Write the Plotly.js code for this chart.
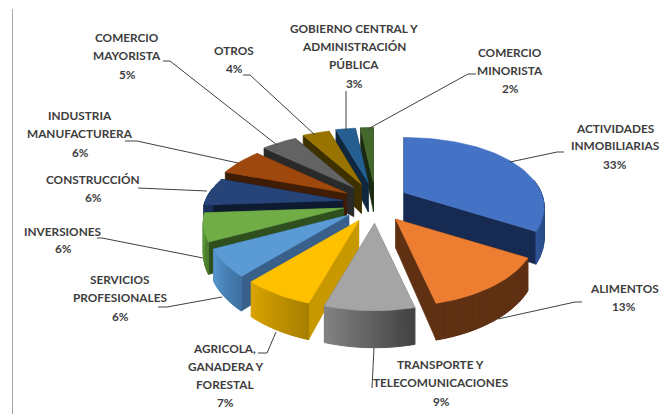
<!DOCTYPE html>
<html><head><meta charset="utf-8">
<script src="https://cdn.plot.ly/plotly-3.0.1.min.js"></script>
<style>html,body{margin:0;padding:0;background:#fff}#c{width:665px;height:414px}</style>
</head><body><div id="c"></div>
<script>
// ---- data ----
const categories = ["ACTIVIDADES INMOBILIARIAS","ALIMENTOS","TRANSPORTE Y TELECOMUNICACIONES","AGRICOLA, GANADERA Y FORESTAL","SERVICIOS PROFESIONALES","INVERSIONES","CONSTRUCCIÓN","INDUSTRIA MANUFACTURERA","COMERCIO MAYORISTA","OTROS","GOBIERNO CENTRAL Y ADMINISTRACIÓN PÚBLICA","COMERCIO MINORISTA"];
const values = [33,13,9,7,6,6,6,6,5,4,3,2];
// ---- styles ----
const topColors   = ["#4472C4","#ED7D31","#A5A5A5","#FFC000","#5B9BD5","#70AD47","#264478","#9E480E","#636363","#997300","#255E91","#43682B"];
const faceColors  = ["#172B52","#5F3012","#6E6E6E","#C89800","#38608A","#2F4F1E","#0E1A30","#3E1C05","#2A2A2A","#3F3000","#0F2840","#1A2A10"];
const sideLight   = ["#2F5597","#5F3012","#828282","#D9A400","#5596CE","#5E9A3A","#1A3058","#5A2A08","#404040","#5A4400","#1A4468","#2A4018"];
const sideDark    = ["#1C3564","#5F3012","#404040","#A67E00","#3D6F9F","#4A7A2C","#1A3058","#5A2A08","#404040","#5A4400","#1A4468","#2A4018"];
// ---- label text lines with their anchor ----
const labelLines = [
 ["ACTIVIDADES",615,128],["INMOBILIARIAS",615,145],["33%",615,164],
 ["ALIMENTOS",624,288],["13%",624,306],
 ["TRANSPORTE Y",440,364],["TELECOMUNICACIONES",441,382],["9%",441,401],
 ["AGRICOLA,",224,348],["GANADERA Y",225,366],["FORESTAL",225,384],["7%",225,402],
 ["SERVICIOS",120,279],["PROFESIONALES",120,297],["6%",120,316],
 ["INVERSIONES",63,231],["6%",63,248],
 ["CONSTRUCCIÓN",93,179],["6%",93,197],
 ["INDUSTRIA",80,115],["MANUFACTURERA",80,133],["6%",80,152],
 ["COMERCIO",127,37],["MAYORISTA",127,55],["5%",127,74],
 ["OTROS",234,50],["4%",234,68],
 ["GOBIERNO CENTRAL Y",354,28],["ADMINISTRACIÓN",354,46],["PÚBLICA",354,64],["3%",354,83],
 ["COMERCIO",510,52],["MINORISTA",510,70],["2%",510,88]
];
const leaders = [
 [[564,152],[557,152],[510,162]],
 [[582,302],[575,302],[498,319]],
 [[374,348],[372,388]],
 [[276,332],[267,353],[258,353]],
 [[222,297],[167,307],[158,307]],
 [[203,258],[102,238],[97,238]],
 [[138,188],[207,191]],
 [[125,141],[137,141],[238,163]],
 [[163,61],[170,61],[277,145]],
 [[243,75],[250,75],[315,135]],
 [[346,91],[346,130]],
 [[368,129],[468,74],[476,74]]
];
// ---- 3D projection of the exploded pie ----
const CX=375.5, CY=203, R=143, TILT=0.535, EXPLODE_X=33, EXPLODE_Y=20.5;
const f=u=>0.96+0.21*u-0.03*u*u;
const rad=d=>d*Math.PI/180;
function rimPoint(o,deg,down){
  const X=R*Math.sin(rad(deg)), Y=-R*Math.cos(rad(deg)), u=Y/R, s=f(u);
  const depth=down?(29+8*u):0;
  return [o[0]+X*s, o[1]+Y*TILT*s+depth];
}
function hexMix(a,b,t){
  const p=h=>[1,3,5].map(i=>parseInt(h.substr(i,2),16)), A=p(a),B=p(b);
  return "rgb("+A.map((v,i)=>Math.round(v+(B[i]-v)*t)).join(",")+")";
}
function poly(pts,color,w){
  return {type:"scatter",mode:"lines",x:pts.map(p=>p[0]).concat(pts[0][0]),y:pts.map(p=>p[1]).concat(pts[0][1]),
    fill:"toself",fillcolor:color,line:{color:color,width:w===undefined?0.6:w},hoverinfo:"skip",showlegend:false};
}
const total=values.reduce((a,b)=>a+b,0);
let acc=0;
const slices=values.map((v,i)=>{
  const a0=acc/total*360; acc+=v; const a1=acc/total*360; const m=(a0+a1)/2;
  return {i,a0,a1,m,o:[CX+EXPLODE_X*Math.sin(rad(m)),CY-EXPLODE_Y*Math.cos(rad(m))]};
});
slices.sort((p,q)=>(-Math.cos(rad(p.m)))-(-Math.cos(rad(q.m))));
const traces=[];
slices.forEach(s=>{
  const {i,a0,a1,o}=s, apexBelow=[o[0],o[1]+29];
  [a0,a1].forEach(a=>traces.push(poly([o,rimPoint(o,a,false),rimPoint(o,a,true),apexBelow],faceColors[i])));
  const lo=Math.max(a0,80), hi=Math.min(a1,280);
  if(hi>lo){
    const n=Math.max(1,Math.ceil((hi-lo)/1.5));
    for(let k=0;k<n;k++){
      const b0=lo+(hi-lo)*k/n, b1=lo+(hi-lo)*(k+1)/n;
      const t=1-(k+0.5)/n;
      traces.push(poly([rimPoint(o,b0,false),rimPoint(o,b1,false),rimPoint(o,b1,true),rimPoint(o,b0,true)],hexMix(sideLight[i],sideDark[i],t),1));
    }
  }
  const pts=[o]; const n=Math.ceil((a1-a0)/2);
  for(let k=0;k<=n;k++) pts.push(rimPoint(o,a0+(a1-a0)*k/n,false));
  const t=poly(pts,topColors[i]); t.name=categories[i]; t.text=categories[i]+" "+values[i]+"%"; t.hoverinfo="text"; traces.push(t);
});
const shapes=leaders.map(l=>({type:"path",xref:"x",yref:"y",path:"M"+l.map(p=>p.join(",")).join("L"),line:{color:"#404040",width:1}}));
shapes.push({type:"line",xref:"x",yref:"y",x0:12.5,x1:12.5,y0:9,y1:414,line:{color:"#a6a6a6",width:1}});
const annotations=labelLines.map(l=>({xref:"x",yref:"y",x:l[1],y:l[2],text:"<b>"+l[0]+"</b>",showarrow:false,xanchor:"center",yanchor:"middle",
  font:{family:"Lato, 'Open Sans', sans-serif",size:11.8,color:"#3d3d3d"}}));
Plotly.newPlot("c",traces,{
  width:665,height:414,margin:{l:0,r:0,t:0,b:0},paper_bgcolor:"#fff",plot_bgcolor:"#fff",showlegend:false,
  xaxis:{range:[0,665],visible:false,fixedrange:true},
  yaxis:{range:[414,0],visible:false,fixedrange:true},
  shapes,annotations
},{displayModeBar:false,staticPlot:true});
</script></body></html>
